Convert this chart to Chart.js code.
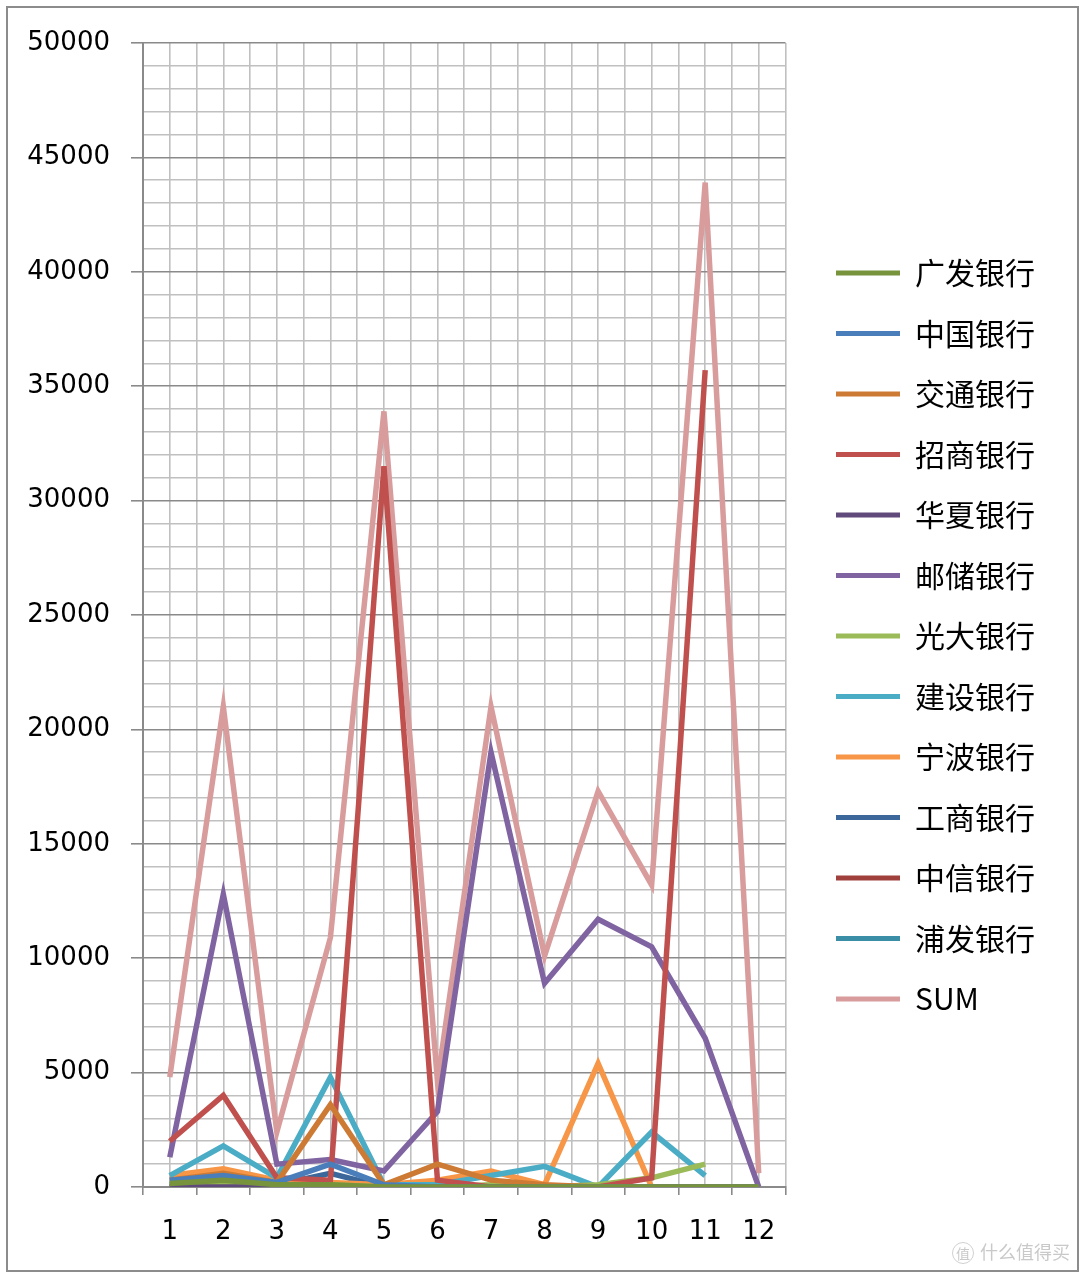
<!DOCTYPE html>
<html>
<head>
<meta charset="utf-8">
<script src="https://cdn.jsdelivr.net/npm/chart.js@4.4.1/dist/chart.umd.min.js"></script>
<style>
  html, body { margin: 0; padding: 0; background: #fff; }
  #wrap { position: relative; width: 1080px; height: 1273px; overflow: hidden; }
  #frame { position: absolute; left: 6px; top: 6px; width: 1069px; height: 1262px; border: 2px solid #8c8c8c; box-sizing: content-box; pointer-events: none; }
  #chart { position: absolute; left: 0; top: 0; }
  #mark { position: absolute; left: 952px; top: 1238px; font-family: "Noto Sans CJK SC", sans-serif; font-size: 18px; color: #c9c9c9; }
  #mark span { display: inline-block; width: 20px; height: 20px; line-height: 20px; border: 1px solid #d0d0d0; border-radius: 50%; text-align: center; font-size: 14px; margin-right: 6px; }
</style>
</head>
<body>
<div id="wrap">
  <canvas id="chart" width="1080" height="1273"></canvas>
  <div id="frame"></div>
  <div id="mark"><span>值</span>什么值得买</div>
</div>
<script>
// months on the x axis
const months = [1, 2, 3, 4, 5, 6, 7, 8, 9, 10, 11, 12];

// values per bank (null = no point)
const guangfa = [150, 300, 100, 100, 0, 0, 0, 0, 0, 0, 0, 0];
const zhongguo = [300, 500, 200, 1000, 100, 0, 0, 0, 0, 0, 0, 0];
const jiaotong = [300, 600, 200, 3600, 100, 1000, 300, 100, 0, 0, 0, 0];
const zhaoshang = [2000, 4000, 400, 300, 31500, 300, 0, 0, 0, 400, 35700, null];
const huaxia = [0, 0, 0, 0, 0, 0, 0, 0, 0, 0, 0, 0];
const youchu = [1300, 12800, 1000, 1200, 700, 3300, 19000, 8900, 11700, 10500, 6500, 0];
const guangda = [100, 100, 100, 100, 0, 0, 100, 0, 100, 400, 1000, null];
const jianshe = [500, 1800, 400, 4800, 100, 100, 500, 900, 0, 2400, 500, null];
const ningbo = [500, 800, 300, 200, 100, 300, 700, 100, 5400, 0, 0, 0];
const gongshang = [100, 300, 100, 600, 0, 0, 0, 0, 0, 0, 0, 0];
const zhongxin = [0, 0, 0, 0, 0, 0, 0, 0, 0, 0, null, null];
const pufa = [0, 0, 0, 0, 0, 0, 0, null, null, null, null, null];
const total = [4800, 21000, 2400, 10900, 33900, 4600, 21000, 10100, 17300, 13200, 43900, 600];

const yTicks = [0, 5000, 10000, 15000, 20000, 25000, 30000, 35000, 40000, 45000, 50000];

const series = [
    { name: '广发银行', values: guangfa, color: '#77933c' },
    { name: '中国银行', values: zhongguo, color: '#4a7ebb' },
    { name: '交通银行', values: jiaotong, color: '#cd7a34' },
    { name: '招商银行', values: zhaoshang, color: '#c0504d' },
    { name: '华夏银行', values: huaxia, color: '#604a7b' },
    { name: '邮储银行', values: youchu, color: '#8064a2' },
    { name: '光大银行', values: guangda, color: '#9bbb59' },
    { name: '建设银行', values: jianshe, color: '#4bacc6' },
    { name: '宁波银行', values: ningbo, color: '#f79646' },
    { name: '工商银行', values: gongshang, color: '#3c679b' },
    { name: '中信银行', values: zhongxin, color: '#a0403d' },
    { name: '浦发银行', values: pufa, color: '#3a8fa6' },
    { name: 'SUM', values: total, color: '#d99c9c' }
];

const minorGrid = '#c0c0c0';
const majorGrid = '#8a8a8a';
const tickFont = { family: '"DejaVu Sans", sans-serif', size: 26 };

const datasets = series.map(s => ({
    label: s.name,
    data: s.values.map((v, i) => ({ x: months[i], y: v })),
    borderColor: s.color,
    backgroundColor: s.color,
    borderWidth: 5.5,
    pointRadius: 0,
    tension: 0,
    spanGaps: false
}));

// nudge the legend block: a bit right of the plot and up
const legendShift = {
    id: 'legendShift',
    afterLayout(chart) {
        const lg = chart.legend;
        lg.left += 20; lg.right += 20;
        lg.top -= 22; lg.bottom -= 22;
    }
};

const ctx = document.getElementById('chart');

new Chart(ctx, {
    type: 'line',
    data: { datasets: datasets },
    plugins: [legendShift],
    options: {
        responsive: false,
        animation: false,
        devicePixelRatio: 1,
        layout: { padding: { top: 43, right: 55, bottom: 0, left: 0 } },
        plugins: {
            tooltip: { enabled: false },
            legend: {
                position: 'right',
                align: 'center',
                labels: {
                    boxWidth: 64,
                    boxHeight: 5,
                    padding: 30.5,
                    color: '#000',
                    font: { family: '"Noto Sans CJK SC", sans-serif', size: 30 },
                    generateLabels: chart => {
                        const items = Chart.defaults.plugins.legend.labels.generateLabels(chart);
                        items.forEach(it => { it.lineWidth = 0; });
                        return items;
                    }
                }
            }
        },
        scales: {
            x: {
                type: 'linear',
                min: 0.5,
                max: 12.5,
                ticks: {
                    stepSize: 0.5,
                    autoSkip: false,
                    maxRotation: 0,
                    padding: 22,
                    color: '#000',
                    font: tickFont,
                    callback: v => Number.isInteger(v) ? String(v) : ''
                },
                grid: {
                    color: minorGrid,
                    lineWidth: 1.6,
                    tickLength: 8,
                    tickColor: c => (c.tick && Number.isInteger(c.tick.value)) ? 'rgba(0,0,0,0)' : majorGrid,
                    tickWidth: 1.6
                },
                border: { color: majorGrid, width: 2 },
                afterFit: s => { s.height = 1273 - 1187; }
            },
            y: {
                min: 0,
                max: 50000,
                ticks: {
                    stepSize: 1000,
                    autoSkip: false,
                    padding: 21,
                    color: '#000',
                    font: tickFont,
                    callback: v => yTicks.includes(v) ? String(v) : ''
                },
                grid: {
                    color: c => (c.tick && c.tick.value % 5000 === 0) ? majorGrid : minorGrid,
                    lineWidth: 1.6,
                    tickLength: 12,
                    tickColor: c => (c.tick && c.tick.value % 5000 === 0) ? majorGrid : 'rgba(0,0,0,0)',
                    tickWidth: 1.6
                },
                border: { color: majorGrid, width: 2 },
                afterFit: s => { s.width = 143; }
            }
        }
    }
});
</script>
</body>
</html>
